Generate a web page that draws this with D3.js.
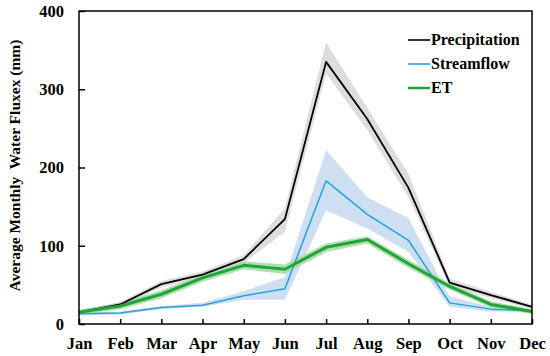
<!DOCTYPE html>
<html>
<head>
<meta charset="utf-8">
<script src="https://cdn.jsdelivr.net/npm/d3@7"></script>
<style>
  body { margin: 0; background: #fff; }
  text { font-family: "Liberation Serif", "Times New Roman", Times, serif; font-weight: bold; }
</style>
</head>
<body>
<div id="chart"></div>
<script>
// Data
const months = ["Jan", "Feb", "Mar", "Apr", "May", "Jun", "Jul", "Aug", "Sep", "Oct", "Nov", "Dec"];

const precip     = [15, 25, 51, 63, 83, 134, 335, 262, 174, 53, 37, 22];
const precipLow  = [13, 22, 47, 59, 78, 118, 320, 248, 162, 48, 33, 19];
const precipHigh = [18, 28, 55, 67, 88, 148, 360, 276, 192, 58, 41, 25];

const stream     = [13, 14, 21, 24, 36, 45, 183, 140, 107, 27, 19, 17];
const streamLow  = [11, 12, 19, 22, 31, 31, 145, 122, 92, 22, 16, 15];
const streamHigh = [15, 16, 23, 27, 42, 60, 222, 162, 135, 35, 22, 19];

const et     = [15, 23, 38, 59, 75, 70, 98, 108, 77, 48, 25, 16];
const etLow  = [12, 19, 33, 54, 70, 64, 92, 103, 72, 44, 21, 13];
const etHigh = [18, 27, 43, 63, 80, 76, 103, 112, 82, 52, 29, 19];

const yTicks = [0, 100, 200, 300, 400];

const series = [
  {name: "Precipitation", v: precip, lo: precipLow, hi: precipHigh, color: "#000000", band: "#d9d9d9", w: 1.8},
  {name: "Streamflow", v: stream, lo: streamLow, hi: streamHigh, color: "#22a4e0", band: "#c9dbf0", w: 1.5},
  {name: "ET", v: et, lo: etLow, hi: etHigh, color: "#1fa43c", band: "#a9dca2", w: 3}
];

const W = 550, H = 356;
const margin = {top: 11, right: 18, bottom: 32, left: 79};

const svg = d3.select("#chart").append("svg")
  .attr("width", W)
  .attr("height", H);

const x = d3.scalePoint()
  .domain(months)
  .range([margin.left, W - margin.right]);

const y = d3.scaleLinear()
  .domain([0, 400])
  .range([H - margin.bottom, margin.top]);

// bands
series.forEach(s => {
  const area = d3.area()
    .x((d, i) => x(months[i]))
    .y0((d, i) => y(s.lo[i]))
    .y1((d, i) => y(s.hi[i]));
  svg.append("path")
    .datum(s.v)
    .attr("d", area)
    .attr("fill", s.band)
    .attr("fill-opacity", 0.9);
});

// lines
series.forEach(s => {
  const line = d3.line()
    .x((d, i) => x(months[i]))
    .y(d => y(d));
  svg.append("path")
    .datum(s.v)
    .attr("d", line)
    .attr("fill", "none")
    .attr("stroke", s.color)
    .attr("stroke-width", s.w)
    .attr("stroke-linejoin", "round");
});

// frame
svg.append("rect")
  .attr("x", margin.left)
  .attr("y", margin.top)
  .attr("width", W - margin.right - margin.left)
  .attr("height", H - margin.bottom - margin.top)
  .attr("fill", "none")
  .attr("stroke", "#000")
  .attr("stroke-width", 1.5);

// axes
const xAxis = svg.append("g")
  .attr("transform", `translate(0,${H - margin.bottom})`)
  .call(d3.axisBottom(x).tickSize(-5).tickPadding(13));
xAxis.select(".domain").remove();
xAxis.selectAll(".tick line").attr("stroke", "#000").attr("stroke-width", 1.5);
xAxis.selectAll(".tick text")
  .attr("font-size", 16.5)
  .attr("fill", "#000");

const yAxis = svg.append("g")
  .attr("transform", `translate(${margin.left},0)`)
  .call(d3.axisLeft(y).tickValues(yTicks).tickSize(-6).tickPadding(15));
yAxis.select(".domain").remove();
yAxis.selectAll(".tick line").attr("stroke", "#000").attr("stroke-width", 1.5);
yAxis.selectAll(".tick text")
  .attr("font-size", 16.5)
  .attr("fill", "#000");

// y title
svg.append("text")
  .attr("transform", `translate(20,${(margin.top + H - margin.bottom) / 2 - 2}) rotate(-90)`)
  .attr("text-anchor", "middle")
  .attr("font-size", 15.5)
  .style("white-space", "pre")
  .text("Average Monthly  Water Fluxex (mm)");

// legend
const legend = svg.append("g").attr("transform", "translate(408,40)");
series.forEach((s, i) => {
  const g = legend.append("g").attr("transform", `translate(0,${i * 24})`);
  g.append("line")
    .attr("x1", 0).attr("x2", 22)
    .attr("stroke", s.color)
    .attr("stroke-width", s.w === 3 ? 2.5 : 1.6);
  g.append("text")
    .attr("x", 23)
    .attr("dy", "0.33em")
    .attr("font-size", 16)
    .text(s.name);
});
</script>
</body>
</html>
